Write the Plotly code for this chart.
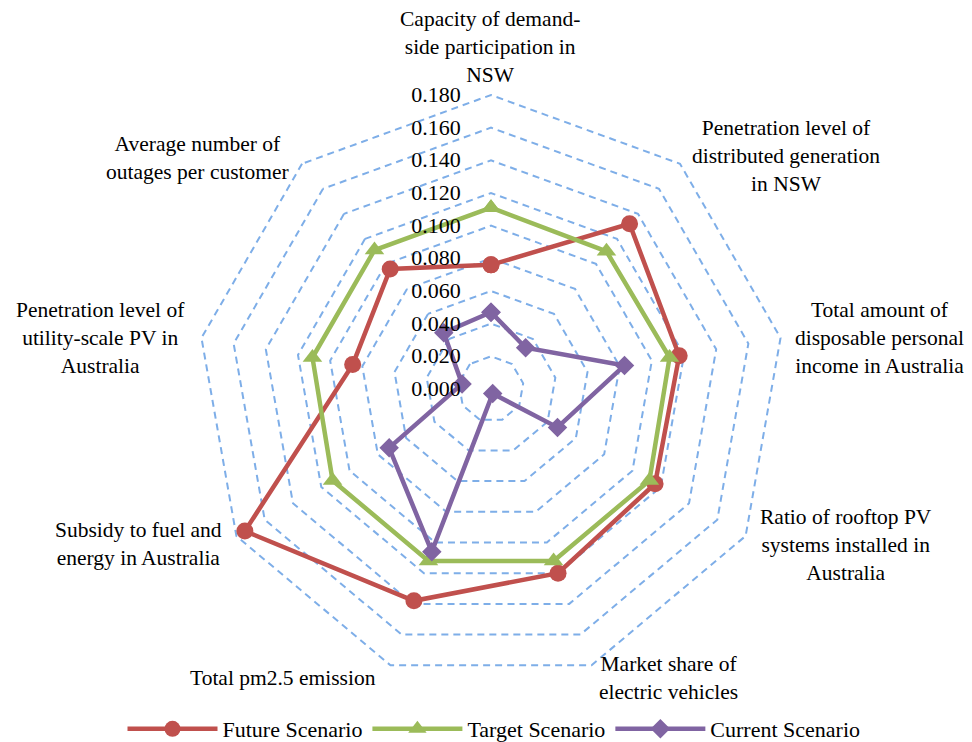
import plotly.graph_objects as go

categories = [
    "Capacity of demand-<br>side participation in<br>NSW",
    "Penetration level of<br>distributed generation<br>in NSW",
    "Total amount of<br>disposable personal<br>income in Australia",
    "Ratio of rooftop PV<br>systems installed in<br>Australia",
    "Market share of<br>electric vehicles",
    "Total pm2.5 emission",
    "Subsidy to fuel and<br>energy in Australia",
    "Penetration level of<br>utility-scale PV in<br>Australia",
    "Average number of<br>outages per customer",
]

future_scenario = [0.076, 0.132, 0.117, 0.116, 0.120, 0.138, 0.174, 0.086, 0.096]
target_scenario = [0.111, 0.110, 0.111, 0.112, 0.112, 0.112, 0.112, 0.111, 0.111]
current_scenario = [0.047, 0.033, 0.083, 0.047, 0.003, 0.106, 0.072, 0.018, 0.045]

radial_ticks = [0.0, 0.02, 0.04, 0.06, 0.08, 0.10, 0.12, 0.14, 0.16, 0.18]

# layout (figure pixels; the page adds an 8 px body margin)
W, H = 972, 742
OFF = 8
label_centres = [(490, 47), (786, 156), (879, 338), (846, 545), (668, 678),
                 (283, 678), (138, 544), (100, 338), (197, 158)]

FONT = "Liberation Serif, Times New Roman, serif"
CX, CY, R18 = 491 - OFF, 389 - OFF, 294      # centre and radius of the 0.18 ring
RMAX = 0.181
RPX = R18 * RMAX / 0.18

def closed(v):
    return list(v) + [v[0]]

theta = closed(categories)

fig = go.Figure()
fig.add_trace(go.Scatterpolar(
    r=closed(future_scenario), theta=theta, name="Future Scenario",
    mode="lines+markers",
    line=dict(color="#C0504D", width=4.5),
    marker=dict(symbol="circle", size=17, color="#C0504D"),
))
fig.add_trace(go.Scatterpolar(
    r=closed(target_scenario), theta=theta, name="Target Scenario",
    mode="lines+markers",
    line=dict(color="#9BBB59", width=4.5),
    marker=dict(symbol="triangle-up", size=17, color="#9BBB59"),
))
fig.add_trace(go.Scatterpolar(
    r=closed(current_scenario), theta=theta, name="Current Scenario",
    mode="lines+markers",
    line=dict(color="#8064A2", width=4.5),
    marker=dict(symbol="diamond", size=15, color="#8064A2"),
))

annotations = []
for text, (px, py) in zip(categories, label_centres):
    annotations.append(dict(
        text=text, x=(px - OFF) / W, y=1 - (py - OFF) / H,
        xref="paper", yref="paper",
        xanchor="center", yanchor="middle", align="center", showarrow=False,
        font=dict(family=FONT, size=21.5, color="black"),
    ))

fig.update_layout(
    width=W, height=H,
    paper_bgcolor="white", plot_bgcolor="white",
    margin=dict(l=0, r=0, t=0, b=0, autoexpand=False),
    font=dict(family=FONT, size=22, color="black"),
    showlegend=True,
    legend=dict(orientation="h", x=0.5, xanchor="center", y=0.0, yanchor="bottom",
                font=dict(family=FONT, size=22, color="black"), itemwidth=90,
                traceorder="normal"),
    annotations=annotations,
    polar=dict(
        domain=dict(x=[(CX - RPX) / W, (CX + RPX) / W],
                    y=[(H - CY - RPX) / H, (H - CY + RPX) / H]),
        bgcolor="white",
        gridshape="linear",
        radialaxis=dict(
            range=[0, RMAX], tickvals=radial_ticks, tickformat=".3f",
            showline=False, showgrid=True,
            gridcolor="#7EAEE8", gridwidth=1.5, griddash="7px,5px",
            angle=90, tickangle=90, side="counterclockwise",
            ticks="outside", ticklen=22, tickcolor="rgba(0,0,0,0)",
            tickfont=dict(family=FONT, size=22, color="black"),
        ),
        angularaxis=dict(
            direction="clockwise", rotation=90,
            showgrid=False, showline=False, ticks="", showticklabels=False,
        ),
    ),
)

fig.write_html("out.html")
